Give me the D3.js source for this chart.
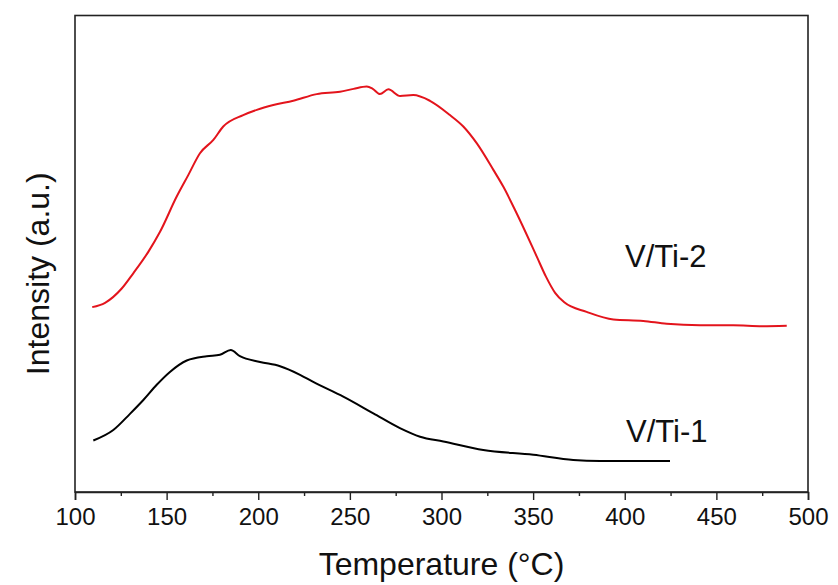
<!DOCTYPE html>
<html>
<head>
<meta charset="utf-8">
<script src="https://cdn.jsdelivr.net/npm/d3@7"></script>
<style>
    body { margin: 0; background: #fff; }
    text { font-family: Arial, "Liberation Sans", sans-serif; fill: #111; }
</style>
</head>
<body>
<div id="chart"></div>
<script>
// temperature (°C) and intensity (a.u., 0-100 scale)
const tempVTi2 = [109.4, 116.4, 125.5, 131.8, 140.0, 146.4, 155.5, 161.8, 168.2, 175.5,
    180.9, 191.8, 199.2, 208.2, 219.1, 231.9, 244.6, 252.0, 259.2, 262.5, 266.4, 271.0,
    277.4, 284.6, 293.7, 304.6, 311.9, 319.2, 328.3, 333.7, 341.0, 352.0, 357.0, 362.0,
    367.0, 379.2, 393.8, 410.1, 422.9, 441.1, 459.2, 475.0, 488.4];
const intVTi2 = [38.8, 39.7, 42.7, 45.9, 50.4, 54.6, 62.0, 66.5, 71.1, 73.9,
    76.7, 79.1, 80.2, 81.2, 82.1, 83.5, 84.0, 84.6, 85.1, 84.6, 83.5, 84.5,
    83.1, 83.3, 82.1, 79.1, 76.7, 73.2, 67.6, 64.1, 58.5, 49.4, 45.2, 41.8,
    39.8, 37.8, 36.2, 35.9, 35.3, 35.0, 35.0, 34.8, 34.9];

const tempVTi1 = [110.0, 120.9, 130.0, 137.3, 144.6, 151.8, 161.0, 171.9, 179.1, 185.0,
    190.0, 201.0, 211.9, 222.8, 230.0, 246.4, 262.8, 277.3, 288.3, 301.0, 322.8,
    350.1, 371.9, 386.5, 424.7];
const intVTi1 = [10.8, 13.0, 16.4, 19.3, 22.5, 25.2, 27.6, 28.5, 28.8, 29.8,
    28.5, 27.3, 26.4, 24.6, 23.1, 20.0, 16.5, 13.4, 11.6, 10.6, 8.8,
    7.8, 6.7, 6.5, 6.5];

const majorTicks = [100, 150, 200, 250, 300, 350, 400, 450, 500];
const minorTicks = [125, 175, 225, 275, 325, 375, 425, 475];

const width = 838;
const height = 585;
const margin = { top: 15.5, right: 30, bottom: 93, left: 75 };

const svg = d3.select("#chart")
    .append("svg")
    .attr("width", width)
    .attr("height", height);

const x = d3.scaleLinear()
    .domain([100, 500])
    .range([margin.left, width - margin.right]);

const y = d3.scaleLinear()
    .domain([0, 100])
    .range([height - margin.bottom, margin.top]);

// frame
svg.append("rect")
    .attr("x", x(100))
    .attr("y", y(100))
    .attr("width", x(500) - x(100))
    .attr("height", y(0) - y(100))
    .attr("fill", "none")
    .attr("stroke", "#222")
    .attr("stroke-width", 1.6);

// bottom axis, major and minor ticks
const xAxis = svg.append("g")
    .attr("transform", `translate(0, ${y(0)})`)
    .call(d3.axisBottom(x).tickValues(majorTicks).tickSize(8).tickPadding(8).tickFormat(d3.format("d")));
xAxis.select(".domain").attr("stroke", "#222").attr("stroke-width", 1.6);
xAxis.selectAll(".tick line").attr("stroke", "#222").attr("stroke-width", 1.4);
xAxis.selectAll(".tick text")
    .style("font-size", "24px")
    .style("font-family", "Arial, 'Liberation Sans', sans-serif")
    .attr("fill", "#111");

const xMinor = svg.append("g")
    .attr("transform", `translate(0, ${y(0)})`)
    .call(d3.axisBottom(x).tickValues(minorTicks).tickSize(4).tickFormat(""));
xMinor.select(".domain").remove();
xMinor.selectAll(".tick line").attr("stroke", "#222").attr("stroke-width", 1.4);

const line = d3.line()
    .curve(d3.curveMonotoneX)
    .x(d => x(d[0]))
    .y(d => y(d[1]));

svg.append("path")
    .datum(d3.zip(tempVTi2, intVTi2))
    .attr("d", line)
    .attr("fill", "none")
    .attr("stroke", "#e3141c")
    .attr("stroke-width", 2)
    .attr("stroke-linejoin", "round");

svg.append("path")
    .datum(d3.zip(tempVTi1, intVTi1))
    .attr("d", line)
    .attr("fill", "none")
    .attr("stroke", "#000")
    .attr("stroke-width", 2)
    .attr("stroke-linejoin", "round");

// series labels
svg.append("text")
    .attr("x", 625)
    .attr("y", 267)
    .style("font-size", "31px")
    .text("V/Ti-2");

svg.append("text")
    .attr("x", 626)
    .attr("y", 442)
    .style("font-size", "31px")
    .text("V/Ti-1");

// axis titles
svg.append("text")
    .attr("x", (x(100) + x(500)) / 2)
    .attr("y", 575)
    .attr("text-anchor", "middle")
    .style("font-size", "32px")
    .text("Temperature (°C)");

svg.append("text")
    .attr("transform", `translate(49, ${(y(0) + y(100)) / 2 + 20}) rotate(-90)`)
    .attr("text-anchor", "middle")
    .style("font-size", "32px")
    .text("Intensity (a.u.)");
</script>
</body>
</html>
